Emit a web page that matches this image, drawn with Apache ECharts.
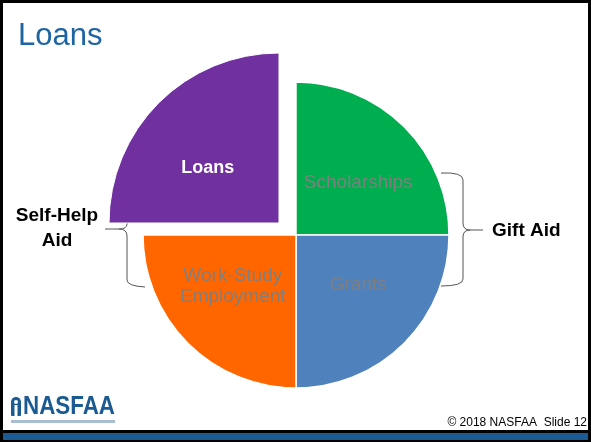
<!DOCTYPE html>
<html><head><meta charset="utf-8">
<script src="https://cdn.jsdelivr.net/npm/echarts@6/dist/echarts.min.js"></script>
<style>html,body{margin:0;padding:0;background:#fff}#c{width:591px;height:442px}</style>
</head><body><div id="c"></div>
<script>
const categories = ['Scholarships', 'Grants', 'Work-Study\nEmployment', 'Loans'];
const shares = [25, 25, 25, 25];
const sliceColors = ['#00AE4F', '#4F81BD', '#FF6600', '#7030A0'];
const titleText = 'Loans';
const groupLabels = ['Self-Help\nAid', 'Gift Aid'];
const footerText = '\u00A9 2018 NASFAA  Slide 12';

const chart = echarts.init(document.getElementById('c'), null, {renderer: 'canvas'});
const labelOffsets = [[6, 4], [6, -6], [-7, -5], [-9, 7]];
const mainData = categories.map((c, i) => i === 3
  ? {name: c, value: shares[i], itemStyle: {color: 'rgba(0,0,0,0)', borderWidth: 0}, label: {show: false}}
  : {name: c, value: shares[i], itemStyle: {color: sliceColors[i]}, label: {offset: labelOffsets[i]}});
const loansData = [
  {name: categories[3], value: shares[3], itemStyle: {color: sliceColors[3]}, label: {offset: labelOffsets[3]}},
  {name: 'rest', value: shares[0] + shares[1] + shares[2], itemStyle: {color: 'rgba(0,0,0,0)', borderWidth: 0}, label: {show: false}}
];
const lbl = {show: true, position: 'inside', color: '#7F7F7F', fontFamily: 'Liberation Sans', fontSize: 19, lineHeight: 21};
const ln = {fill: 'none', stroke: '#555', lineWidth: 1};
function seg(x1, y1, x2, y2) { return {type: 'line', shape: {x1, y1, x2, y2}, style: ln}; }
function curve(x1, y1, cx, cy, x2, y2) { return {type: 'bezierCurve', shape: {x1, y1, x2, y2, cpx1: cx, cpy1: cy}, style: ln}; }
chart.setOption({
  animation: false,
  backgroundColor: '#fff',
  series: [
    {type: 'pie', center: [296, 235], radius: [0, 153], startAngle: 90, clockwise: true,
     silent: true, label: lbl, labelLine: {show: false},
     itemStyle: {borderColor: '#fff', borderWidth: 1.5}, data: mainData},
    {type: 'pie', center: [279, 223], radius: [0, 170], startAngle: 180, clockwise: true,
     silent: true, label: Object.assign({}, lbl, {color: '#fff', fontWeight: 'bold', fontSize: 18}),
     labelLine: {show: false}, itemStyle: {borderColor: '#fff', borderWidth: 1}, data: loansData}
  ],
  graphic: [
    {type: 'rect', shape: {x: 1.5, y: 1.5, width: 588, height: 439}, style: {fill: 'none', stroke: '#000', lineWidth: 3}, z: 10},
    {type: 'rect', shape: {x: 3, y: 430, width: 585, height: 3}, style: {fill: '#000'}, z: 11},
    {type: 'rect', shape: {x: 3, y: 433, width: 585, height: 7}, style: {fill: '#1B5A93'}, z: 11},
    {type: 'text', x: 18, y: 36, style: {text: titleText, fill: '#1C64A2', font: '31px "Liberation Sans"', verticalAlign: 'middle'}},
    {type: 'text', x: 57, y: 228, style: {text: groupLabels[0], fill: '#000', font: 'bold 19px "Liberation Sans"', align: 'center', verticalAlign: 'middle', lineHeight: 25}},
    {type: 'text', x: 492, y: 231, style: {text: groupLabels[1], fill: '#000', font: 'bold 19px "Liberation Sans"', align: 'left', verticalAlign: 'middle'}},
    // left brace
    seg(105, 229, 119, 229),
    curve(119, 229, 127, 229, 127, 236),
    curve(119, 229, 127, 229, 127, 224),
    curve(127, 224, 127, 222, 134, 222),
    seg(127, 236, 127, 280),
    curve(127, 280, 127, 286, 145, 287),
    // right brace
    curve(441, 173, 463, 172, 463, 180),
    seg(463, 180, 463, 223),
    curve(463, 223, 463, 230, 470, 230),
    seg(470, 230, 483, 230),
    curve(470, 230, 463, 230, 463, 237),
    seg(463, 237, 463, 279),
    curve(463, 279, 463, 286, 441, 286),
    // logo
    {type: 'text', x: 23, y: 407, scaleX: 0.86, style: {text: 'NASFAA', fill: '#1B5A93', font: 'bold 26px "Liberation Sans"', verticalAlign: 'middle'}},
    {type: 'rect', shape: {x: 11, y: 397, width: 10, height: 19, r: [5, 5, 1, 1]}, style: {fill: '#1B5A93'}},
    {type: 'circle', shape: {cx: 16, cy: 402, r: 2}, style: {fill: '#fff'}},
    {type: 'rect', shape: {x: 14.5, y: 405, width: 3, height: 11}, style: {fill: '#fff'}},
    {type: 'rect', shape: {x: 11, y: 420, width: 104, height: 3}, style: {fill: '#A9BED3'}},
    {type: 'text', x: 587, y: 423, style: {text: footerText, fill: '#000', font: '12px "Liberation Sans"', align: 'right', verticalAlign: 'middle'}}
  ]
});
</script></body></html>
